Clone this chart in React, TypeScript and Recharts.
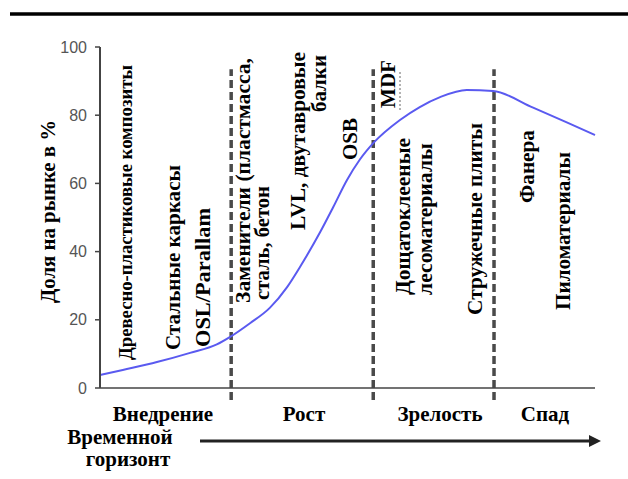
import React from "react";
import { LineChart, Line, XAxis, YAxis, ReferenceLine } from "recharts";

// time position along the life cycle (0 = start of horizon, 100 = end of drawn curve)
const timePos = [0, 4.6, 11.5, 18.2, 23.6, 26.3, 30.3, 34.3, 37.8, 40.4, 44.4, 47.1, 49.9, 52.5, 55.2, 60.6, 64.6, 68.7, 74.1, 79.4, 87.5, 94.3, 100];
// market share, %
const marketShare = [3.8, 5.3, 7.6, 10.3, 12.8, 15, 19, 23.5, 29.6, 35.5, 45.5, 53, 61, 67, 71.8, 78.6, 82.4, 85.3, 87.4, 87.1, 82.2, 77.9, 74.2];
// stage boundaries on the time axis
const stageBounds = [26.5, 55.2, 79.6];
const yTicks = [0, 20, 40, 60, 80, 100];

const stageNames = ["Внедрение", "Рост", "Зрелость", "Спад"];
const yTitle = "Доля на рынке в %";
const horizonLabel = ["Временной", "горизонт"];

const data = timePos.map((t, i) => ({ t, share: marketShare[i] }));

const SERIF = "'Liberation Serif', 'Times New Roman', serif";

type VProps = { cx: number; y: number; size?: number; len?: number; anchor?: "start" | "end"; children: React.ReactNode };
const V = ({ cx, y, size = 21, len, anchor = "start", children }: VProps) => (
  <text
    transform={`translate(${cx},${y}) rotate(-90)`}
    textAnchor={anchor}
    dominantBaseline="central"
    fontFamily={SERIF}
    fontWeight="bold"
    fontSize={size}
    fill="#000"
    textLength={len}
    lengthAdjust={len ? "spacingAndGlyphs" : undefined}
  >
    {children}
  </text>
);

const H = ({ x, y, children }: { x: number; y: number; children: React.ReactNode }) => (
  <text x={x} y={y} textAnchor="middle" fontFamily={SERIF} fontWeight="bold" fontSize={21} fill="#000">
    {children}
  </text>
);

export default function App() {
  return (
    <div style={{ position: "absolute", left: 0, top: 0, width: 628, height: 479, background: "#fff" }}>
      <LineChart width={628} height={479} data={data} margin={{ top: 47, right: 33, bottom: 61, left: 0 }}>
        <XAxis
          type="number"
          dataKey="t"
          domain={[0, 100]}
          tick={false}
          tickLine={false}
          height={30}
          axisLine={{ stroke: "#444", strokeWidth: 1.5 }}
        />
        <YAxis
          type="number"
          domain={[0, 100]}
          ticks={yTicks}
          width={100}
          tickSize={5}
          tickMargin={8}
          axisLine={{ stroke: "#444", strokeWidth: 2 }}
          tickLine={{ stroke: "#444", strokeWidth: 1.5 }}
          tick={{ fill: "#555", fontSize: 16, fontFamily: "'Liberation Sans', Arial, sans-serif" }}
        />
        {stageBounds.map((b) => (
          <ReferenceLine
            key={b}
            segment={[{ x: b, y: -3.5 }, { x: b, y: 93.5 }]}
            ifOverflow="visible"
            stroke="#4a4a4a"
            strokeWidth={3.5}
            strokeDasharray="8 4"
          />
        ))}
        <Line
          type="monotone"
          dataKey="share"
          stroke="#5a5af0"
          strokeWidth={2}
          dot={false}
          isAnimationActive={false}
        />
        {/* top rule */}
        <line x1={10} x2={628} y1={14} y2={14} stroke="#000" strokeWidth={3.5} />
        {/* y axis title */}
        <V cx={48} y={303} size={21} len={183}>{yTitle}</V>
        {/* product annotations */}
        <V cx={125} y={360} size={19} len={295}>Древесно-пластиковые композиты</V>
        <V cx={172} y={350} size={22} len={185}>Стальные каркасы</V>
        <V cx={203} y={347} size={21} len={139}>OSL/Parallam</V>
        <V cx={243} y={303} size={21} len={245}>Заменители (пластмасса,</V>
        <V cx={262} y={300} size={21} len={114}>сталь, бетон</V>
        <V cx={298} y={52} size={21} len={178} anchor="end">LVL, двутавровые</V>
        <V cx={319} y={55} size={21} len={57} anchor="end">балки</V>
        <V cx={350} y={160} size={21} len={42}>OSB</V>
        <V cx={388} y={108} size={21} len={48}>MDF</V>
        <line x1={400} x2={400} y1={72} y2={110} stroke="#666" strokeWidth={1} strokeDasharray="2 2" />
        <V cx={403} y={295} size={21} len={157}>Дощатоклееные</V>
        <V cx={425} y={295} size={20} len={152}>лесоматериалы</V>
        <V cx={475} y={315} size={21} len={192}>Стружечные плиты</V>
        <V cx={527} y={203} size={21} len={73}>Фанера</V>
        <V cx={563} y={310} size={21} len={158}>Пиломатериалы</V>
        {/* stages */}
        <H x={163} y={421}>{stageNames[0]}</H>
        <H x={304} y={421}>{stageNames[1]}</H>
        <H x={440} y={421}>{stageNames[2]}</H>
        <H x={545} y={421}>{stageNames[3]}</H>
        <H x={120} y={444}>{horizonLabel[0]}</H>
        <H x={128} y={466}>{horizonLabel[1]}</H>
        {/* time arrow */}
        <line x1={200} x2={591} y1={441} y2={441} stroke="#222" strokeWidth={3} />
        <polygon points="589,435 601,441 589,447" fill="#222" />
      </LineChart>
    </div>
  );
}
